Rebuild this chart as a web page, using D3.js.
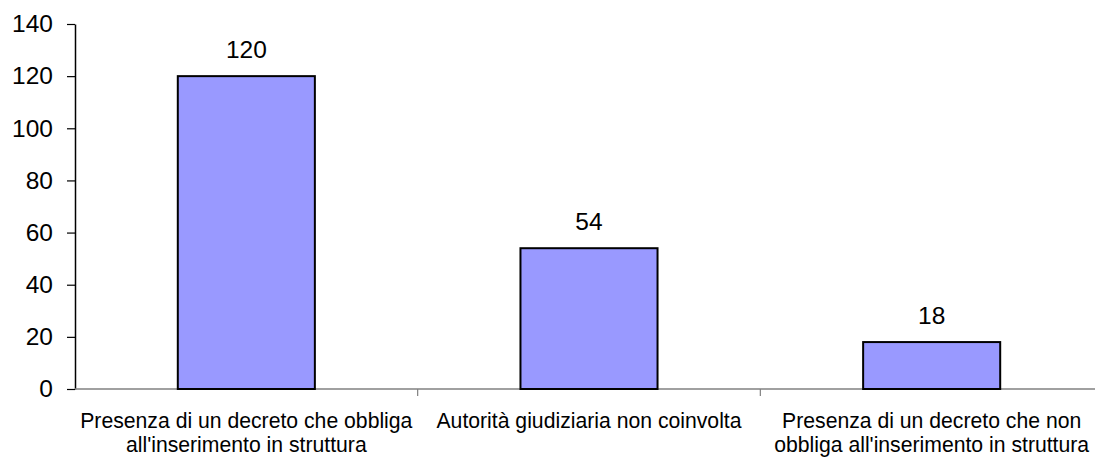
<!DOCTYPE html>
<html><head><meta charset="utf-8">
<script src="https://cdn.jsdelivr.net/npm/d3@7"></script>
<style>body{margin:0;background:#fff;} svg{display:block;} text{font-family:"Liberation Sans",Arial,sans-serif;}</style>
</head><body>
<svg id="chart" width="1095" height="458"></svg>
<script>
const categories = [
  ["Presenza di un decreto che obbliga", "all'inserimento in struttura"],
  ["Autorità giudiziaria non coinvolta"],
  ["Presenza di un decreto che non", "obbliga all'inserimento in struttura"]
];
const values = [120, 54, 18];
const yTicks = [0, 20, 40, 60, 80, 100, 120, 140];

(function(){
const svg = d3.select("#chart");
const mLeft = 75, mRight = 1103, mTop = 24, mBottom = 389;
const x = d3.scaleBand().domain(d3.range(categories.length)).range([mLeft, mRight]).paddingInner(0).paddingOuter(0);
const y = d3.scaleLinear().domain([0, 140]).range([mBottom, mTop]);

// y axis
const yAxis = svg.append("g").attr("transform", `translate(${mLeft},0)`)
  .call(d3.axisLeft(y).tickValues(yTicks).tickSize(8).tickPadding(14).tickSizeOuter(0));
yAxis.select(".domain").attr("stroke", "#000").attr("stroke-width", 1.5);
yAxis.selectAll(".tick line").attr("stroke", "#000").attr("stroke-width", 1.2);
yAxis.selectAll(".tick text").attr("font-size", 24.5).attr("fill", "#000").attr("font-family", "Liberation Sans, Arial, sans-serif");

// x axis
const xg = svg.append("g");
xg.append("line").attr("x1", mLeft).attr("x2", mRight).attr("y1", mBottom).attr("y2", mBottom).attr("stroke", "#808080").attr("stroke-width", 1.5);
const bounds = d3.range(1, categories.length + 1).map(i => x(i - 1) + x.bandwidth());
xg.selectAll("line.tk").data(bounds).join("line").attr("class", "tk")
  .attr("x1", d => d).attr("x2", d => d).attr("y1", mBottom).attr("y2", mBottom + 7)
  .attr("stroke", "#808080").attr("stroke-width", 1.2);

// bars
const bw = x.bandwidth() * 0.4;
svg.selectAll("rect.bar").data(values).join("rect").attr("class", "bar")
  .attr("x", (d, i) => x(i) + (x.bandwidth() - bw) / 2)
  .attr("y", d => y(d))
  .attr("width", bw)
  .attr("height", d => y(0) - y(d))
  .attr("fill", "#9999FF").attr("stroke", "#000").attr("stroke-width", 2);

// value labels
svg.selectAll("text.val").data(values).join("text").attr("class", "val")
  .attr("x", (d, i) => x(i) + x.bandwidth() / 2)
  .attr("y", d => y(d) - 18)
  .attr("text-anchor", "middle").attr("font-size", 24.5).attr("fill", "#000")
  .text(d => d);

// category labels
categories.forEach((lines, i) => {
  const t = svg.append("text").attr("x", x(i) + x.bandwidth() / 2).attr("text-anchor", "middle")
    .attr("font-size", 21.2).attr("fill", "#000");
  lines.forEach((ln, j) => {
    t.append("tspan").attr("x", x(i) + x.bandwidth() / 2).attr("y", 428 + j * 24).text(ln);
  });
});
})();
</script>
</body></html>
